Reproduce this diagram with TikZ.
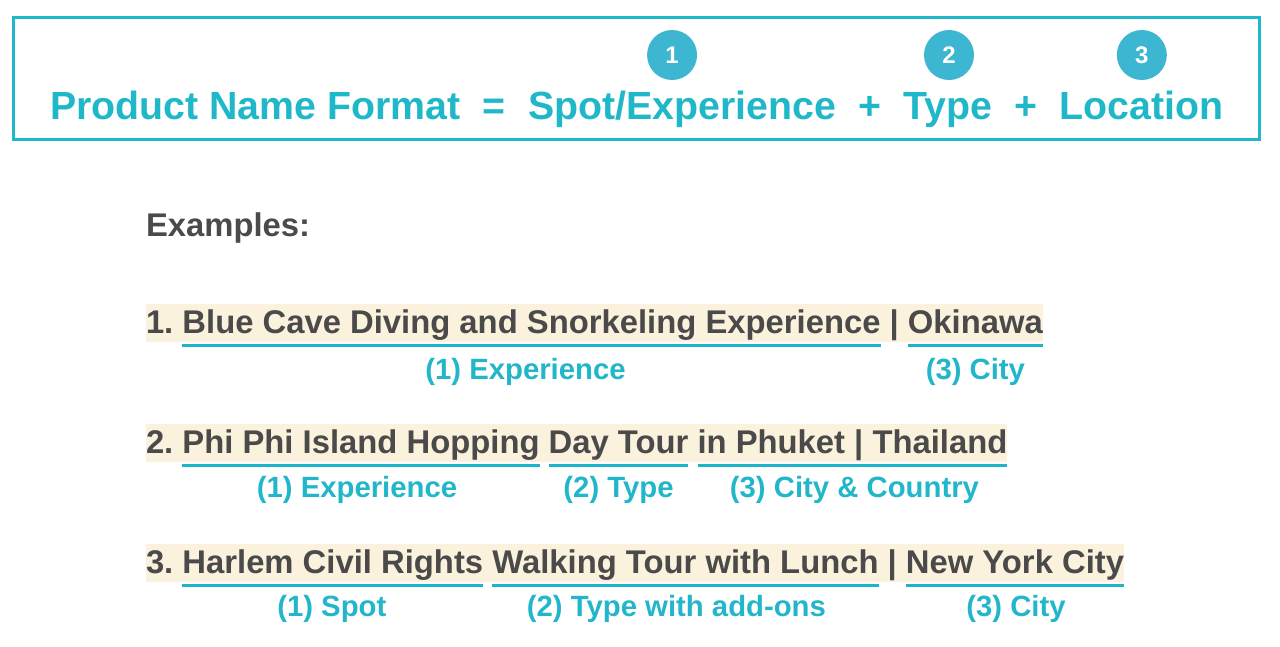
\documentclass[tikz,border=0pt]{standalone}
\usepackage{fontspec}
\setmainfont{Liberation Sans}
\usetikzlibrary{calc,backgrounds}
\definecolor{titlec}{HTML}{20B8C9}
\definecolor{circc}{HTML}{3DB6D1}
\definecolor{darkc}{HTML}{4A4A4A}
\definecolor{labc}{HTML}{22B6CA}
\definecolor{ulc}{HTML}{1DB5CC}
\definecolor{hlc}{HTML}{FBF2DE}
\tikzset{
  ttl/.style={anchor=base west, inner sep=0pt, outer sep=0pt, text=titlec, font=\bfseries\fontsize{39.3}{46}\selectfont},
  num/.style={circle, fill=circc, minimum size=50pt, inner sep=0pt, text=white, font=\bfseries\fontsize{24}{28}\selectfont},
  ex/.style={anchor=base west, inner sep=0pt, outer sep=0pt, text=darkc, font=\bfseries\fontsize{32.8}{40}\selectfont},
  lab/.style={anchor=base, inner sep=0pt, text=labc, font=\bfseries\fontsize{29.3}{35}\selectfont},
  ul/.style={draw=ulc, line width=3pt},
  frame/.style={draw=titlec, line width=3pt}
}
\begin{document}
\begin{tikzpicture}[x=1pt,y=-1pt]
\useasboundingbox (0,0) rectangle (1280,646);
% title box
\draw[frame] (13,17) rectangle (1259,139);
\node[ttl] (t1) at (50,119) {Product Name Format};
\node[ttl] (t2) at ($(t1.base east)+(22.3,0)$) {=};
\node[ttl] (t3) at ($(t2.base east)+(22.3,0)$) {Spot/Experience};
\node[ttl] (t4) at ($(t3.base east)+(22.3,0)$) {+};
\node[ttl] (t5) at ($(t4.base east)+(22.3,0)$) {Type};
\node[ttl] (t6) at ($(t5.base east)+(22.3,0)$) {+};
\node[ttl] (t7) at ($(t6.base east)+(22.3,0)$) {Location};
\node[num] (c1) at ($(t3.base)+(-10,-64)$) {1};
\node[num] (c2) at ($(t5.base)+(1,-64)$) {2};
\node[num] (c3) at ($(t7.base)+(0,-64)$) {3};
% examples
\node[ex] (ex) at (146,236) {Examples:};
% line 1
\node[ex] (a1) at (146,333) {1.};
\node[ex] (a2) at ($(a1.base east)+(9.1,0)$) {Blue Cave Diving and Snorkeling Experience};
\node[ex] (a3) at ($(a2.base east)+(9.1,0)$) {|};
\node[ex] (a4) at ($(a3.base east)+(9.1,0)$) {Okinawa};
\draw[ul] ($(a2.base west)+(0,12)$) -- ($(a2.base east)+(0,12)$);
\draw[ul] ($(a4.base west)+(0,12)$) -- ($(a4.base east)+(0,12)$);
\node[lab] (la2) at ($(a2.base)+(-6,46)$) {(1) Experience};
\node[lab] (la4) at ($(a4.base)+(0,46)$) {(3) City};
% line 2
\node[ex] (b1) at (146,453) {2.};
\node[ex] (b2) at ($(b1.base east)+(9.1,0)$) {Phi Phi Island Hopping};
\node[ex] (b3) at ($(b2.base east)+(9.1,0)$) {Day Tour};
\node[ex] (b4) at ($(b3.base east)+(9.1,0)$) {in Phuket | Thailand};
\draw[ul] ($(b2.base west)+(0,12)$) -- ($(b2.base east)+(0,12)$);
\draw[ul] ($(b3.base west)+(0,12)$) -- ($(b3.base east)+(0,12)$);
\draw[ul] ($(b4.base west)+(0,12)$) -- ($(b4.base east)+(0,12)$);
\node[lab] (lb2) at ($(b2.base)+(-4,44)$) {(1) Experience};
\node[lab] (lb3) at ($(b3.base)+(0,44)$) {(2) Type};
\node[lab] (lb4) at ($(b4.base)+(2,44)$) {(3) City \& Country};
% line 3
\node[ex] (d1) at (146,573) {3.};
\node[ex] (d2) at ($(d1.base east)+(9.1,0)$) {Harlem Civil Rights};
\node[ex] (d3) at ($(d2.base east)+(9.1,0)$) {Walking Tour with Lunch};
\node[ex] (d4) at ($(d3.base east)+(9.1,0)$) {|};
\node[ex] (d5) at ($(d4.base east)+(9.1,0)$) {New York City};
\draw[ul] ($(d2.base west)+(0,12)$) -- ($(d2.base east)+(0,12)$);
\draw[ul] ($(d3.base west)+(0,12)$) -- ($(d3.base east)+(0,12)$);
\draw[ul] ($(d5.base west)+(0,12)$) -- ($(d5.base east)+(0,12)$);
\node[lab] (ld2) at ($(d2.base)+(-1,43)$) {(1) Spot};
\node[lab] (ld3) at ($(d3.base)+(-9,43)$) {(2) Type with add-ons};
\node[lab] (ld5) at ($(d5.base)+(1,43)$) {(3) City};
% highlights
\begin{scope}[on background layer]
\fill[hlc] ($(a1.base west)+(0,-29)$) rectangle ($(a4.base east)+(0,9)$);
\fill[hlc] ($(b1.base west)+(0,-29)$) rectangle ($(b4.base east)+(0,9)$);
\fill[hlc] ($(d1.base west)+(0,-29)$) rectangle ($(d5.base east)+(0,9)$);
\end{scope}
\end{tikzpicture}
\end{document}
